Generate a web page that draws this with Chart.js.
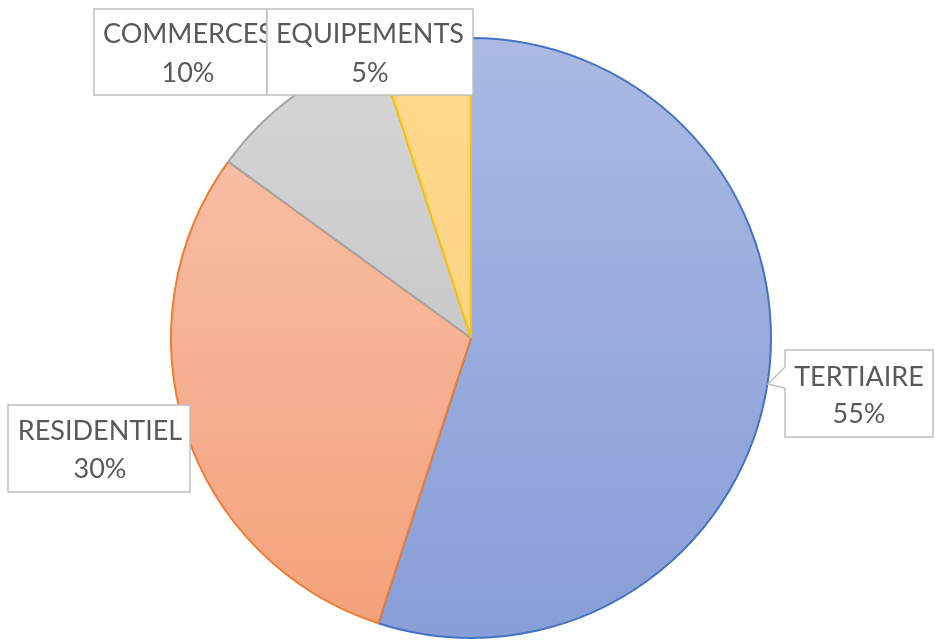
<!DOCTYPE html>
<html><head><meta charset="utf-8">
<script src="https://cdn.jsdelivr.net/npm/chart.js@4.4.0/dist/chart.umd.min.js"></script>
<style>html,body{margin:0;padding:0;background:#fff}#wrap{width:935px;height:641px;position:relative}</style>
</head><body><div id="wrap"><canvas id="c" width="935" height="641"></canvas></div>
<script>
const categories = ['TERTIAIRE', 'RESIDENTIEL', 'COMMERCES', 'EQUIPEMENTS'];
const values = [55, 30, 10, 5];
const percentLabels = ['55%', '30%', '10%', '5%'];
const gradTop = ['#abb9e3', '#f9c4ae', '#d6d6d6', '#ffd98e'];
const gradBottom = ['#879ed7', '#f4a17a', '#bdbdbd', '#ffd07a'];
const borderColors = ['#4472c4', '#ed7d31', '#a5a5a5', '#ffc000'];

// label box layout: [x, y, w, h, textCenterX, baseline1, baseline2]
const boxLayout = [
  {x: 785, y: 350, w: 148, h: 87, cx: 859, b1: 386, b2: 423, pointer: true},
  {x: 8, y: 405, w: 182, h: 87, cx: 100, b1: 440, b2: 478},
  {x: 94, y: 9, w: 173, h: 86, cx: 188, b1: 43, b2: 82},
  {x: 267, y: 9, w: 206, h: 86, cx: 370, b1: 43, b2: 82}
];

const labelPlugin = {
  id: 'labelBoxes',
  afterDraw(chart) {
    const ctx = chart.ctx;
    ctx.save();
    categories.forEach((cat, i) => {
      const b = boxLayout[i];
      ctx.beginPath();
      if (b.pointer) {
        ctx.moveTo(b.x, b.y);
        ctx.lineTo(b.x + b.w, b.y);
        ctx.lineTo(b.x + b.w, b.y + b.h);
        ctx.lineTo(b.x, b.y + b.h);
        ctx.lineTo(b.x, 388);
        ctx.lineTo(768, 384);
        ctx.lineTo(b.x, 367);
        ctx.closePath();
      } else {
        ctx.rect(b.x, b.y, b.w, b.h);
      }
      ctx.fillStyle = '#ffffff';
      ctx.fill();
      ctx.lineWidth = 1.5;
      ctx.strokeStyle = '#bfbfbf';
      ctx.stroke();
      ctx.save();
      ctx.beginPath();
      ctx.rect(b.x + 1, b.y + 1, b.w - 2, b.h - 2);
      ctx.clip();
      ctx.fillStyle = '#595959';
      ctx.font = '27px Lato';
      ctx.textAlign = 'center';
      ctx.textBaseline = 'alphabetic';
      ctx.fillText(cat, b.cx, b.b1);
      ctx.fillText(percentLabels[i], b.cx, b.b2);
      ctx.restore();
    });
    ctx.restore();
  }
};

function grad(ctx, i) {
  const area = ctx.chart.chartArea;
  if (!area) return gradTop[i];
  const g = ctx.chart.ctx.createLinearGradient(0, area.top, 0, area.bottom);
  g.addColorStop(0, gradTop[i]);
  g.addColorStop(1, gradBottom[i]);
  return g;
}

new Chart(document.getElementById('c'), {
  type: 'pie',
  data: {
    labels: categories,
    datasets: [{
      data: values,
      backgroundColor: (ctx) => grad(ctx, ctx.dataIndex),
      borderColor: borderColors,
      borderWidth: 2
    }]
  },
  options: {
    responsive: false,
    animation: false,
    layout: {padding: {left: 170, right: 163, top: 36, bottom: 1}},
    plugins: {legend: {display: false}, tooltip: {enabled: false}}
  },
  plugins: [labelPlugin]
});
</script></body></html>
